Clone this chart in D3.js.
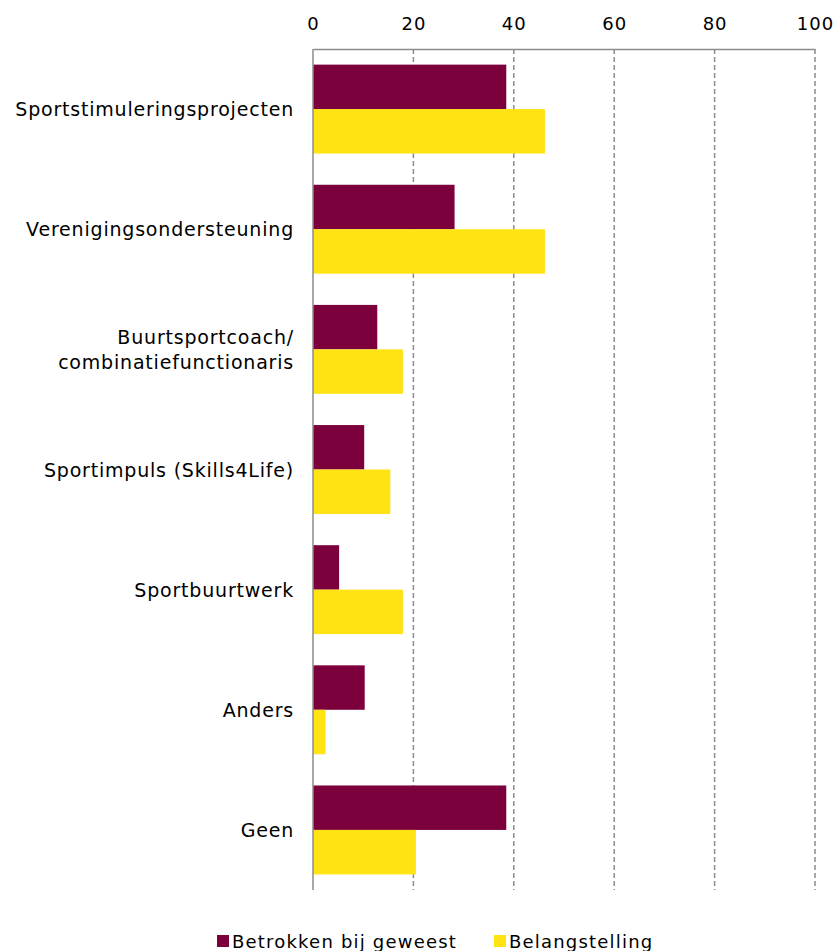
<!DOCTYPE html>
<html>
<head>
<meta charset="utf-8">
<script src="https://cdn.jsdelivr.net/npm/d3@7"></script>
<style>
  body { margin: 0; background: #fff; }
  svg text { font-family: "DejaVu Sans", sans-serif; fill: #000; }
</style>
</head>
<body>
<div id="chart"></div>
<script>
// categories, top to bottom
var categories = [
	'Sportstimuleringsprojecten',
	'Verenigingsondersteuning',
	'Buurtsportcoach/\ncombinatiefunctionaris',
	'Sportimpuls (Skills4Life)',
	'Sportbuurtwerk',
	'Anders',
	'Geen'
];
var seriesNames = [ 'Betrokken bij geweest', 'Belangstelling' ];
var betrokken = [ 38.5, 28.2, 12.8, 10.2, 5.2, 10.3, 38.5 ];
var belangstelling = [ 46.2, 46.2, 17.9, 15.4, 17.9, 2.5, 20.5 ];
var xTicks = [ 0, 20, 40, 60, 80, 100 ];
var colors = [ '#7b003c', '#ffe313' ];

var width = 838;
var height = 951;
var margin = { top: 49, right: 23, bottom: 61, left: 313 };

var svg = d3.select('#chart').append('svg').attr('width', width).attr('height', height);

var x = d3.scaleLinear().domain([ 0, 100 ]).range([ margin.left, width - margin.right ]);

var y = d3
	.scaleBand()
	.domain(categories)
	.range([ margin.top, height - margin.bottom ])
	.paddingInner(0.26)
	.paddingOuter(0.13);

var ySub = d3.scaleBand().domain(seriesNames).range([ 0, y.bandwidth() ]);

// dashed grid
svg
	.append('g')
	.selectAll('line')
	.data(xTicks.slice(1))
	.enter()
	.append('line')
	.attr('x1', (d) => x(d))
	.attr('x2', (d) => x(d))
	.attr('y1', margin.top)
	.attr('y2', height - margin.bottom)
	.attr('stroke', '#8c8c8c')
	.attr('stroke-width', 1.5)
	.attr('stroke-dasharray', '5,3');

// bars
var rows = categories.map((c, i) => ({ cat: c, values: [ betrokken[i], belangstelling[i] ] }));

var groups = svg
	.append('g')
	.selectAll('g')
	.data(rows)
	.enter()
	.append('g')
	.attr('transform', (d) => `translate(0,${y(d.cat)})`);

groups
	.selectAll('rect')
	.data((d) => d.values.map((v, j) => ({ name: seriesNames[j], value: v, color: colors[j] })))
	.enter()
	.append('rect')
	.attr('x', x(0))
	.attr('y', (d) => ySub(d.name))
	.attr('width', (d) => x(d.value) - x(0))
	.attr('height', ySub.bandwidth())
	.attr('fill', (d) => d.color);

// top axis
var xAxis = svg
	.append('g')
	.attr('transform', `translate(0,${margin.top})`)
	.call(d3.axisTop(x).tickValues(xTicks).tickSize(0).tickPadding(19));
xAxis.select('.domain').attr('stroke', '#8c8c8c').attr('stroke-width', 1.5);
xAxis.selectAll('text').style('font-size', '18px').style('letter-spacing', '1px').attr('fill', '#000');

// left axis line
svg
	.append('line')
	.attr('x1', x(0))
	.attr('x2', x(0))
	.attr('y1', margin.top)
	.attr('y2', height - margin.bottom)
	.attr('stroke', '#8c8c8c')
	.attr('stroke-width', 1.5);

// category labels
var labels = svg
	.append('g')
	.selectAll('text')
	.data(categories)
	.enter()
	.append('text')
	.attr('text-anchor', 'end')
	.style('font-size', '19px')
	.style('letter-spacing', '0.8px')
	.attr('transform', (d) => `translate(${x(0) - 19},${y(d) + y.bandwidth() / 2})`);

labels.each(function(d) {
	var lines = d.split('\n');
	var t = d3.select(this);
	lines.forEach((ln, i) => {
		t
			.append('tspan')
			.attr('x', 0)
			.attr('y', (i - (lines.length - 1) / 2) * 25 + 7)
			.text(ln);
	});
});

// legend
var legend = svg.append('g').attr('transform', 'translate(217,948)');
var legendX = [ 0, 277 ];
seriesNames.forEach((s, i) => {
	var g = legend.append('g').attr('transform', `translate(${legendX[i]},0)`);
	g.append('rect').attr('x', 0).attr('y', -13).attr('width', 12).attr('height', 12).attr('fill', colors[i]);
	g.append('text').attr('x', 15).attr('y', 0).style('font-size', '18px').style('letter-spacing', '1.2px').text(s);
});
</script>
</body>
</html>
